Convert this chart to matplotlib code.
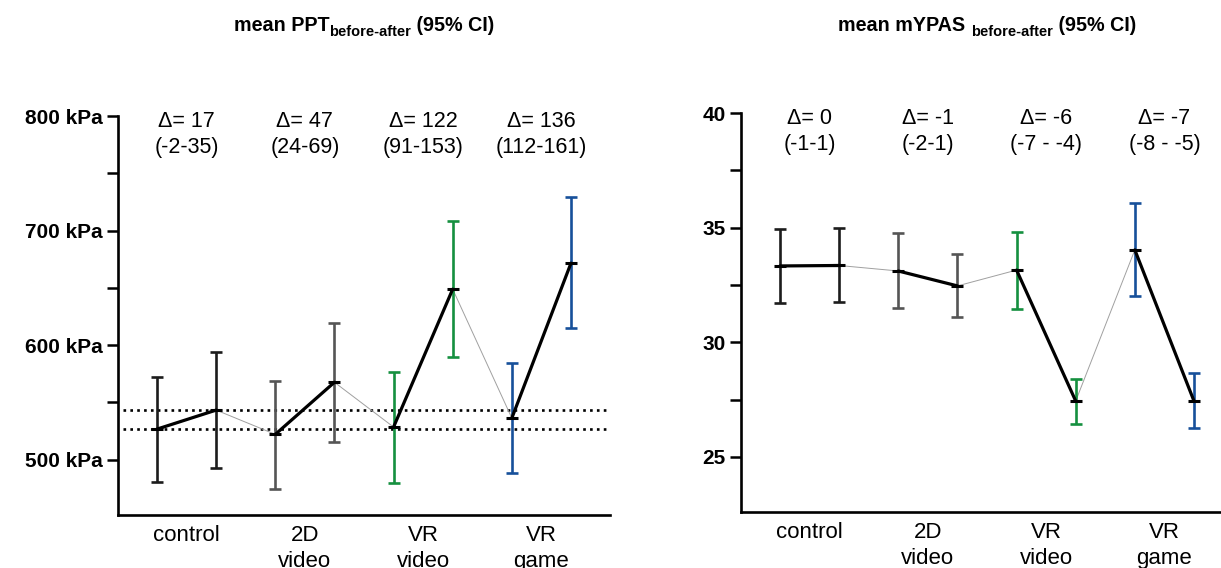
import matplotlib
matplotlib.use('Agg')
import matplotlib.pyplot as plt
import numpy as np
from matplotlib.ticker import MultipleLocator
from matplotlib.transforms import blended_transform_factory

plt.rcParams['font.family'] = ['Liberation Sans', 'DejaVu Sans']

# groups, before/after per group
groups = ['control', '2D\nvideo', 'VR\nvideo', 'VR\ngame']
group_colors = ['#1c1c1c', '#555555', '#15903f', '#17509a']

# PPT (kPa): before, after for each group
ppt_mean = np.array([526.6, 543.2, 522.0, 567.5, 528.4, 648.8, 536.2, 671.5])
ppt_low = np.array([480.4, 492.6, 474.3, 515.3, 479.5, 589.4, 488.2, 614.7])
ppt_high = np.array([572.0, 593.8, 568.5, 619.0, 576.4, 708.0, 584.2, 729.0])
ppt_delta = ['17', '47', '122', '136']
ppt_ci = ['-2-35', '24-69', '91-153', '112-161']

# mYPAS
mypas_mean = np.array([33.33, 33.35, 33.11, 32.46, 33.15, 27.44, 34.03, 27.44])
mypas_low = np.array([31.72, 31.76, 31.50, 31.10, 31.45, 26.44, 32.02, 26.27])
mypas_high = np.array([34.94, 34.99, 34.77, 33.85, 34.81, 28.40, 36.08, 28.66])
mypas_delta = ['0', '-1', '-6', '-7']
mypas_ci = ['-1-1', '-2-1', '-7 - -4', '-8 - -5']

W, H = 1221, 568
fig = plt.figure(figsize=(W / 100, H / 100), dpi=100)
ax1 = fig.add_axes([118 / W, 53 / H, 492 / W, 399 / H])
ax2 = fig.add_axes([741 / W, 56 / H, 492 / W, 399 / H])


def draw_panel(ax, mean, low, high, deltas, cis):
    x = np.arange(len(mean))
    for g in range(4):
        idx = [2 * g, 2 * g + 1]
        ax.errorbar(x[idx], mean[idx],
                    yerr=[mean[idx] - low[idx], high[idx] - mean[idx]],
                    fmt='none', ecolor=group_colors[g], elinewidth=1.9,
                    capsize=4.5, capthick=1.9, zorder=3)
        ax.plot(x[idx], mean[idx], color='black', lw=2.3, zorder=4,
                solid_capstyle='round')
    # thin connectors between groups
    for g in range(3):
        idx = [2 * g + 1, 2 * g + 2]
        ax.plot(x[idx], mean[idx], color='#a0a0a0', lw=0.7, zorder=2)
    ax.plot(x, mean, ls='none', marker='_', ms=8, mew=2.2, color='black', zorder=5)

    centers = x[::2] + 0.5
    tr = blended_transform_factory(ax.transData, ax.transAxes)
    for c, d, ci in zip(centers, deltas, cis):
        ax.text(c, 0.985, 'Δ= ' + d, transform=tr, ha='center', va='center', fontsize=15.5)
        ax.text(c, 0.92, '(' + ci + ')', transform=tr, ha='center', va='center', fontsize=15.5)

    ax.set_xlim(-0.66, 7.66)
    ax.set_xticks(centers)
    ax.set_xticklabels(groups, fontsize=16, linespacing=1.35)
    ax.tick_params(axis='x', length=0, pad=7)
    ax.tick_params(axis='y', which='both', direction='out', length=8, width=1.8, pad=3)
    for s in ['top', 'right']:
        ax.spines[s].set_visible(False)
    for s in ['left', 'bottom']:
        ax.spines[s].set_linewidth(1.9)


draw_panel(ax1, ppt_mean, ppt_low, ppt_high, ppt_delta, ppt_ci)
ax1.set_ylim(451.6, 800)
ax1.set_yticks([500, 600, 700, 800])
ax1.set_yticklabels([f'{v} kPa' for v in [500, 600, 700, 800]], fontsize=15, fontweight='bold')
ax1.yaxis.set_minor_locator(MultipleLocator(50))
# reference lines at control means
ax1.axhline(ppt_mean[0], xmin=0.01, color='black', ls=(0, (1, 1.6)), lw=1.9, zorder=1)
ax1.axhline(ppt_mean[1], xmin=0.01, color='black', ls=(0, (1, 1.6)), lw=1.9, zorder=1)

draw_panel(ax2, mypas_mean, mypas_low, mypas_high, mypas_delta, mypas_ci)
ax2.set_ylim(22.6, 40)
ax2.set_yticks([25, 30, 35, 40])
ax2.set_yticklabels(['25', '30', '35', '40'], fontsize=15, fontweight='bold')
ax2.yaxis.set_minor_locator(MultipleLocator(2.5))


def sub_title(ax, head, sub, tail, y_px=31):
    r = fig.canvas.get_renderer()
    parts = [(head, 14.2, 0), (sub, 10.5, -5), (tail, 14.2, 0)]
    objs = []
    total = 0
    for s, fs, dy in parts:
        t = fig.text(0, 0, s, fontsize=fs, fontweight='bold', va='baseline')
        w = t.get_window_extent(r).width
        objs.append((t, w, dy))
        total += w
    bb = ax.get_position()
    cx = (bb.x0 + bb.width / 2) * W
    xpos = cx - total / 2
    for t, w, dy in objs:
        t.set_position((xpos / W, (H - y_px + dy) / H))
        xpos += w


sub_title(ax1, 'mean PPT', 'before-after', ' (95% CI)')
sub_title(ax2, 'mean mYPAS ', 'before-after', ' (95% CI)')

fig.savefig('out.png', dpi=100)
